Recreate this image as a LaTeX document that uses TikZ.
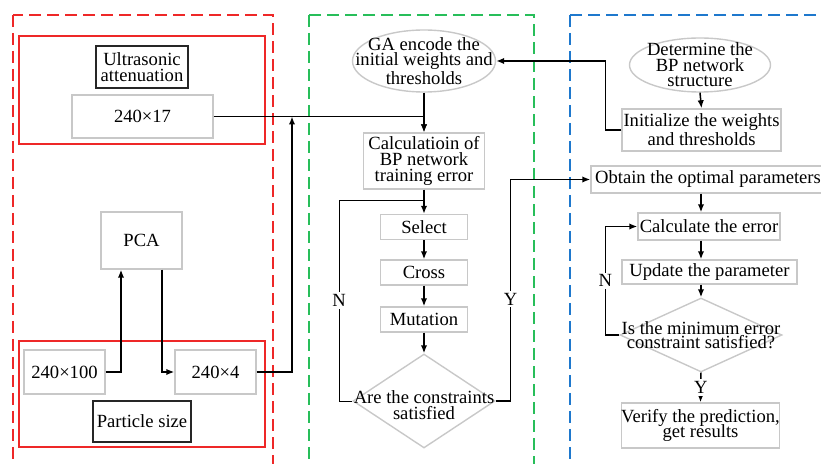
\documentclass[tikz,border=0pt]{standalone}
\usepackage{fontspec}
\setmainfont{Liberation Serif}
\usetikzlibrary{arrows.meta, shapes.geometric}

\definecolor{zred}{RGB}{238,40,40}
\definecolor{zgreen}{RGB}{40,190,90}
\definecolor{zblue}{RGB}{30,120,205}
\definecolor{boxgray}{RGB}{200,200,200}
\newcommand\tightlines{\fontsize{9.3}{7.2}\selectfont\lineskiplimit=-5pt\relax}

\begin{document}
\begin{tikzpicture}[
  x=0.5pt, y=-0.5pt,
  font=\fontsize{9.3}{7.8}\selectfont,
  tight/.style={font=\tightlines},
  gbox/.style={draw=boxgray, line width=0.7pt, inner sep=0pt, align=center},
  kbox/.style={draw=black!85, line width=1pt, inner sep=1pt, align=center},
  gell/.style={draw=boxgray, line width=0.7pt, ellipse, inner sep=0pt},
  gdia/.style={draw=boxgray, line width=0.7pt, diamond, inner sep=0pt},
  zone/.style={line width=1pt, dash pattern=on 6pt off 3pt},
  arr/.style={-{Latex[length=4pt,width=3.2pt]}, line width=0.75pt},
  lbl/.style={fill=white, inner sep=1pt}
]
\useasboundingbox (0,0) rectangle (821,464);
\clip (0,0) rectangle (821,464);

% dashed zones
\draw[zone, draw=zred]   (13,15) rectangle (273,480);
\draw[zone, draw=zgreen] (309,15) rectangle (534,480);
\draw[zone, draw=zblue]  (570,15) rectangle (840,480);
\draw[zred, line width=0.75pt] (19,36) rectangle (265,144);
\draw[zred, line width=0.75pt] (19,341) rectangle (265,447);

% data side
\node[kbox, minimum width=46pt, minimum height=21pt] (ultra) at (142,67) {Ultrasonic\\attenuation};
\node[gbox, minimum width=70.5pt, minimum height=21.5pt] (n17) at (142.5,116.5) {240×17};
\node[gbox, minimum width=40.5pt, minimum height=28.5pt] (pca) at (141.5,240.5) {PCA};
\node[gbox, minimum width=40.5pt, minimum height=22pt] (n100) at (64.5,372) {240×100};
\node[gbox, minimum width=40.5pt, minimum height=22pt] (n4) at (215.5,372) {240×4};
\node[kbox, minimum width=49pt, minimum height=20.5pt] (psize) at (142,421.5) {Particle size};
\coordinate (jn) at (292,116.5);

% GA side
\node[gell, minimum width=71.5pt, minimum height=31pt] (ga) at (424,61) {};
\node[align=center] (gatxt) at (ga) {GA encode the\\initial weights and\\thresholds};
\node[gbox, minimum width=60.5pt, minimum height=28pt] (calc) at (424,161) {Calculatioin of\\BP network\\training error};
\node[gbox, minimum width=43.5pt, minimum height=12.5pt] (sel) at (424,227) {Select};
\node[gbox, minimum width=43.5pt, minimum height=12.5pt] (cro) at (424,272.5) {Cross};
\node[gbox, minimum width=43.5pt, minimum height=12.5pt] (mut) at (424,319.5) {Mutation};
\node[gdia, minimum width=71pt, minimum height=47pt] (d1) at (424,401) {};
\node[align=center] (d1txt) at ([yshift=-2pt]d1.center) {Are the constraints\\satisfied};
\coordinate (nloop) at (339,200);

% BP side
\node[gell, minimum width=70.5pt, minimum height=27pt] (det) at (700,65) {};
\node[align=center] (dettxt) at (det) {Determine the\\BP network\\structure};
\node[gbox, minimum width=79.5pt, minimum height=21pt] (init) at (701.5,130) {Initialize the weights\\and thresholds};
\node[gbox, minimum width=117pt, minimum height=13.5pt] (obt) at (708,179.5) {Obtain the optimal parameters};
\node[gbox, minimum width=71pt, minimum height=13.5pt] (calc2) at (709,226.5) {Calculate the error};
\node[gbox, minimum width=87.5pt, minimum height=12pt] (upd) at (709.5,272) {Update the parameter};
\node[gdia, minimum width=81pt, minimum height=37pt] (d2) at (701,335) {};
\node[align=center, tight] (d2txt) at (d2) {Is the minimum error\\constraint satisfied?};
\node[gbox, minimum width=78.5pt, minimum height=22.5pt, tight] (ver) at (700.5,425.5) {Verify the prediction,\\get results};

% connectors
\draw[arr] (n100.east) -| ([xshift=-10.25pt]pca.south);
\draw[arr] ([xshift=10.25pt]pca.south) |- (n4.west);
\draw[arr] (n4.east) -| (jn);
\draw[arr] (n17.east) -| (calc.north);
\draw[arr] (ga.south) -- (calc.north);
\draw[arr] (calc) -- (sel);
\draw[arr] (sel) -- (cro);
\draw[arr] (cro) -- (mut);
\draw[arr] (mut) -- (d1.north);
\draw (d1.west) -| node[lbl, pos=0.75] (nlab) {N} (nloop) -- (nloop -| calc.south);
\draw[arr] (d1.east) -- ++(15,0) |- node[lbl, pos=0.23] (ylab) {Y} (obt.west);

\draw[arr] (det.south) -- (init.north);
\draw[arr] (init.west) -- ++(-16,0) |- (ga.east);
\draw[arr] (obt.south -| d2) -- (calc2.north -| d2);
\draw[arr] (calc2.south -| d2) -- (upd.north -| d2);
\draw[arr] (upd.south -| d2) -- (d2.north);
\draw[arr] (d2.west) -- ++(-14,0) |- node[lbl, pos=0.25] (nlab2) {N} (calc2.west);
\draw[arr] (d2.south) -- node[lbl] (ylab2) {Y} (ver.north);
\end{tikzpicture}
\end{document}
